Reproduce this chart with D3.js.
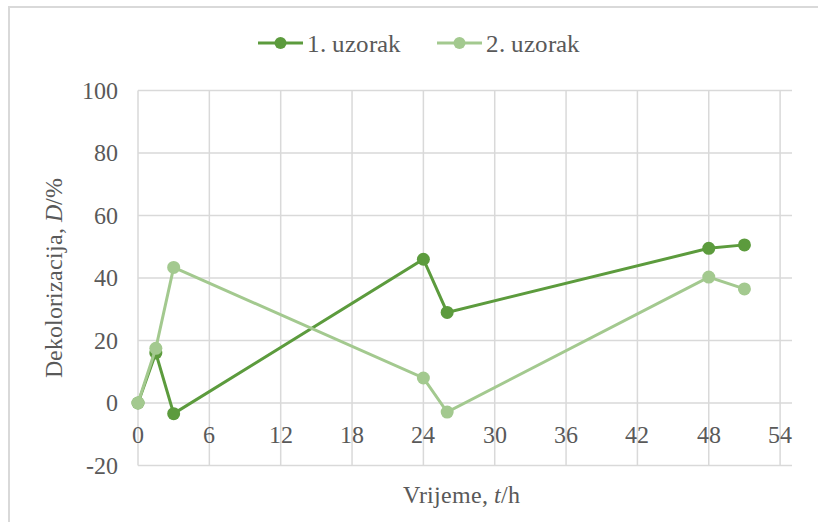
<!DOCTYPE html>
<html>
<head>
<meta charset="utf-8">
<style>
@font-face {
  font-family: "ChartSerif";
  src: local("Liberation Serif"), local("LiberationSerif"), local("LiberationSerif-Regular"), local("Tinos"), local("Times New Roman");
  font-style: normal;
}
@font-face {
  font-family: "ChartSerif";
  src: local("Liberation Serif Italic"), local("LiberationSerif-Italic"), local("Tinos Italic"), local("Times New Roman Italic");
  font-style: italic;
}
</style>
</head>
<body style="margin:0; background:#fff">
<script src="https://cdn.jsdelivr.net/npm/d3@7"></script>
<script>
// data
var hours = [0, 1.5, 3, 24, 26, 48, 51];
var uzorak1 = [0, 16, -3.4, 46, 29, 49.5, 50.6];
var uzorak2 = [0, 17.5, 43.4, 8, -2.9, 40.3, 36.5];
var seriesNames = ["1. uzorak", "2. uzorak"];
var seriesColors = ["#5c9b3d", "#a3c98f"];
var xTicks = [0, 6, 12, 18, 24, 30, 36, 42, 48, 54];
var yTicks = [-20, 0, 20, 40, 60, 80, 100];

var width = 818, height = 522;
var serif = "ChartSerif, 'Liberation Serif', Tinos, 'Times New Roman', serif";
var textColor = "#595959";
var gridColor = "#d9d9d9";

var svg = d3.select("body").append("svg")
    .attr("width", width)
    .attr("height", height)
    .attr("font-family", serif);

// chart frame (only left and top visible)
svg.append("path")
    .attr("d", "M9,522 V7 H818")
    .attr("fill", "none")
    .attr("stroke", gridColor)
    .attr("stroke-width", 2);

var x = d3.scaleLinear().domain([0, 55]).range([138, 792]);
var y = d3.scaleLinear().domain([-20, 100]).range([465.5, 90.5]);

// gridlines
var grid = svg.append("g")
    .attr("stroke", gridColor)
    .attr("stroke-width", 1.5);
grid.selectAll(".h").data(yTicks).enter().append("line")
    .attr("class", "h")
    .attr("x1", x(0)).attr("x2", x(55))
    .attr("y1", function(d) { return y(d); })
    .attr("y2", function(d) { return y(d); });
grid.selectAll(".v").data(xTicks).enter().append("line")
    .attr("class", "v")
    .attr("y1", y(-20)).attr("y2", y(100))
    .attr("x1", function(d) { return x(d); })
    .attr("x2", function(d) { return x(d); });

function label(sel, size) {
  return sel.style("font-family", serif)
      .attr("font-size", size)
      .attr("fill", textColor);
}

// y tick labels
label(svg.append("g").selectAll("text").data(yTicks).enter().append("text"), 24)
    .attr("x", x(0) - 20)
    .attr("y", function(d) { return y(d); })
    .attr("dy", "0.35em")
    .attr("text-anchor", "end")
    .text(function(d) { return d; });

// x tick labels (sit under the zero line)
label(svg.append("g").selectAll("text").data(xTicks).enter().append("text"), 24)
    .attr("x", function(d) { return x(d); })
    .attr("y", y(0) + 40)
    .attr("text-anchor", "middle")
    .text(function(d) { return d; });

// axis titles
var xt = label(svg.append("text"), 24)
    .attr("x", 461)
    .attr("y", 503)
    .attr("text-anchor", "middle");
xt.append("tspan").text("Vrijeme, ");
xt.append("tspan").style("font-style", "italic").text("t");
xt.append("tspan").text("/h");

var yt = label(svg.append("text"), 24)
    .attr("transform", "translate(62,278) rotate(-90)")
    .attr("text-anchor", "middle");
yt.append("tspan").text("Dekolorizacija,  ");
yt.append("tspan").style("font-style", "italic").text("D");
yt.append("tspan").text("/%");

// series
var series = [uzorak1, uzorak2];
var line = d3.line()
    .x(function(d, i) { return x(hours[i]); })
    .y(function(d) { return y(d); });

series.forEach(function(values, s) {
  var g = svg.append("g");
  g.append("path")
      .datum(values)
      .attr("fill", "none")
      .attr("stroke", seriesColors[s])
      .attr("stroke-width", 3)
      .attr("d", line);
  g.selectAll("circle").data(values).enter().append("circle")
      .attr("cx", function(d, i) { return x(hours[i]); })
      .attr("cy", function(d) { return y(d); })
      .attr("r", 6.5)
      .attr("fill", seriesColors[s]);
});

// legend
var legendX = [258, 437];
seriesNames.forEach(function(name, s) {
  var lg = svg.append("g").attr("transform", "translate(" + legendX[s] + ",43)");
  lg.append("line")
      .attr("x1", 0).attr("x2", 45)
      .attr("stroke", seriesColors[s])
      .attr("stroke-width", 3);
  lg.append("circle").attr("cx", 22.5).attr("r", 6).attr("fill", seriesColors[s]);
  label(lg.append("text"), 25)
      .attr("x", 49)
      .attr("dy", "0.35em")
      .text(name);
});
</script>
</body>
</html>
